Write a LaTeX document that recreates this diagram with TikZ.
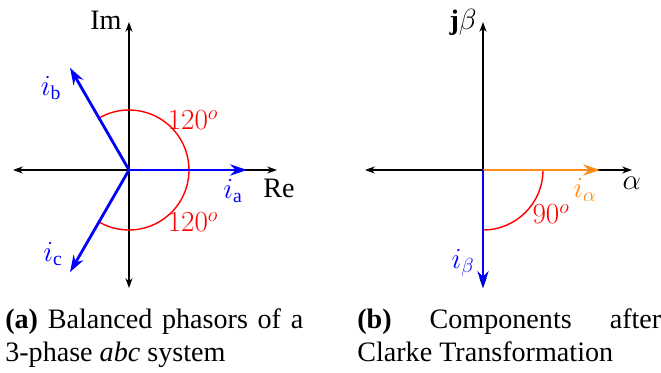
\documentclass[tikz,border=0pt]{standalone}
\usepackage{fontspec}
\setmainfont{Liberation Serif}
\usetikzlibrary{arrows.meta}
\definecolor{phorange}{RGB}{255,140,26}
\begin{document}
\begin{tikzpicture}[font=\fontsize{20}{24}\selectfont,
  axis/.style={{Stealth[length=7pt,width=5pt]}-{Stealth[length=7pt,width=5pt]}, line width=1pt},
  phasor/.style={-{Stealth[length=12pt,width=8pt]}, line width=2pt},
  angarc/.style={red, line width=1pt}]
\useasboundingbox (-3.225,-5.075) rectangle (13.3,4.25);
% (a) abc frame
\coordinate (oa) at (0,0);
\coordinate (la) at (-2.9,0);
\coordinate (ra) at (3.7,0);
\coordinate (ta) at (0,3.7);
\coordinate (ba) at (0,-2.95);
\draw[axis] (la) -- (ra);
\draw[axis] (ba) -- (ta);
\draw[angarc] (-120:1.5) arc (-120:120:1.5);
\foreach \n/\a in {pa/0,pb/120,pc/240} \coordinate (\n) at (\a:2.95);
\foreach \n in {pa,pb,pc} \draw[phasor,blue] (oa) -- (\n);
\node[anchor=east, inner sep=0pt] (im) at (-0.18,3.75) {Im};
\node (re) at (3.75,-0.45) {Re};
\node[text=blue] (ia) at (2.6,-0.53) {$i_\mathrm{a}$};
\node[text=blue] (ib) at (-1.95,2.05) {$i_\mathrm{b}$};
\node[text=blue] (ic) at (-1.9,-2.1) {$i_\mathrm{c}$};
\node[text=red] (angab) at (1.6,1.25) {$120^o$};
\node[text=red] (angac) at (1.6,-1.3) {$120^o$};
% (b) alpha-beta frame
\begin{scope}[xshift=8.85cm]
\coordinate (ob) at (0,0);
\coordinate (lb) at (-2.95,0);
\coordinate (rb) at (3.725,0);
\coordinate (tb) at (0,3.7);
\coordinate (bb) at (0,-2.95);
\draw[axis] (lb) -- (rb);
\draw[axis] (bb) -- (tb);
\draw[angarc] (0:1.5) arc (0:-90:1.5);
\coordinate (palpha) at (2.925,0);
\coordinate (pbeta) at (0,-2.95);
\draw[phasor,phorange] (ob) -- (palpha);
\draw[phasor,blue] (ob) -- (pbeta);
\node[anchor=east, inner sep=0pt] (jbeta) at (-0.15,3.7) {$\mathbf{j}\beta$};
\node (alpha) at (3.72,-0.33) {$\alpha$};
\node[text=phorange] (ialpha) at (2.55,-0.5) {$i_\alpha$};
\node[text=blue] (ibeta) at (-0.5,-2.33) {$i_\beta$};
\node[text=red] (angab2) at (1.7,-1.1) {$90^o$};
\end{scope}
% captions
\node[text width=7.45cm, align=justify, anchor=north west, inner sep=0pt,
  execute at begin node=\hyphenpenalty10000\exhyphenpenalty10000] (capa) at (-3.1,-3.45)
  {\textbf{(a)} Balanced phasors of a 3-phase \textit{abc} system};
\node[text width=7.6cm, align=justify, anchor=north west, inner sep=0pt,
  execute at begin node=\hyphenpenalty10000\exhyphenpenalty10000] (capb) at (5.7,-3.45)
  {\textbf{(b)} Components after Clarke Transformation};
\end{tikzpicture}
\end{document}
